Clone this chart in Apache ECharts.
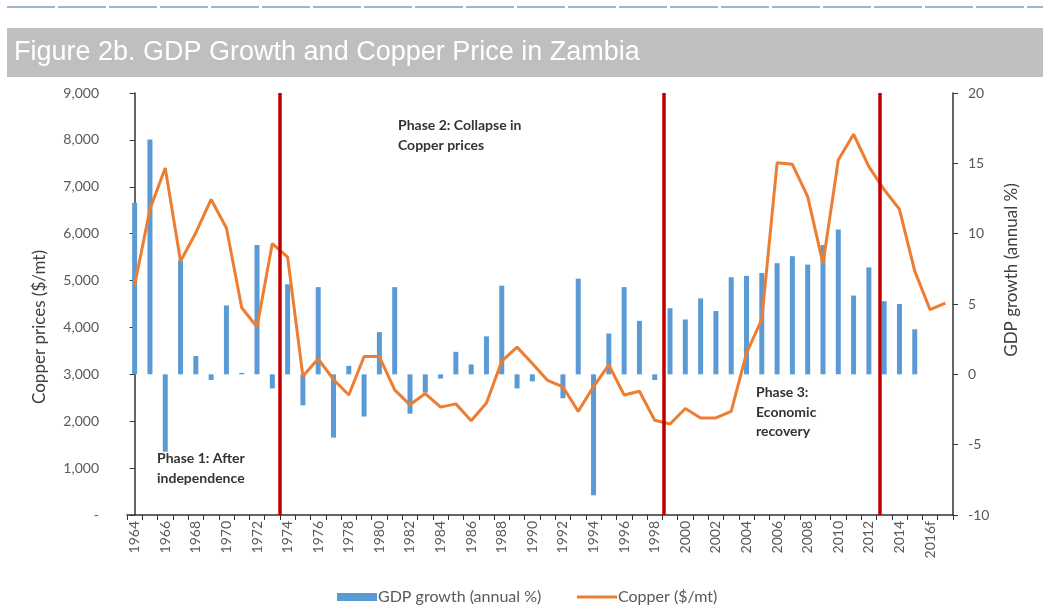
<!DOCTYPE html>
<html>
<head>
<meta charset="utf-8">
<script src="https://cdn.jsdelivr.net/npm/echarts@6/dist/echarts.min.js"></script>
<style>
  html, body { margin: 0; padding: 0; background: #fff; }
  #chart { width: 1043px; height: 605px; }
</style>
</head>
<body>
<div id="chart"></div>
<script>
'use strict';

// years 1964 - 2017, only every other one is labelled
var years = [];
for (var y = 1964; y <= 2017; y++) { years.push(String(y)); }
var yearLabels = years.map(function (v) { return v === '2016' ? '2016f' : (v === '2017' ? '2017f' : v); });

// GDP growth (annual %), no bars for the forecast years
var gdpGrowth = [
    12.2, 16.7, -5.5, 8.1, 1.3, -0.4, 4.9, 0.1, 9.2, -1.0,
    6.4, -2.2, 6.2, -4.5, 0.6, -3.0, 3.0, 6.2, -2.8, -1.3,
    -0.3, 1.6, 0.7, 2.7, 6.3, -1.0, -0.5, 0.0, -1.7, 6.8,
    -8.6, 2.9, 6.2, 3.8, -0.4, 4.7, 3.9, 5.4, 4.5, 6.9,
    7.0, 7.2, 7.9, 8.4, 7.8, 9.2, 10.3, 5.6, 7.6, 5.2,
    5.0, 3.2, null, null
];

// copper price ($/mt)
var copperPrice = [
    4900, 6520, 7400, 5410, 6020, 6730, 6120, 4420, 4010, 5790,
    5500, 2960, 3330, 2890, 2560, 3380, 3380, 2670, 2350, 2590,
    2300, 2370, 2010, 2390, 3280, 3580, 3230, 2870, 2730, 2210,
    2740, 3200, 2560, 2640, 2020, 1940, 2270, 2070, 2070, 2210,
    3450, 4170, 7510, 7480, 6790, 5360, 7570, 8120, 7430, 6940,
    6520, 5200, 4380, 4520
];

// red phase separators, in category index units
var phaseBreaks = [9.5, 34.6, 48.7];

var copperTicks = { min: 0, max: 9000, interval: 1000 };
var gdpTicks = { min: -10, max: 20, interval: 5 };

var chart = echarts.init(document.getElementById('chart'));

var axisFont = 'Lato, "Open Sans", sans-serif';
var labelColor = '#595959';

var option = {
    animation: false,
    grid: { left: 127, right: 90, top: 93, bottom: 90 },
    graphic: [
        { type: 'line', shape: { x1: 7, y1: 7, x2: 1043, y2: 7 },
          style: { stroke: '#9fb4cf', lineWidth: 2, lineDash: [48, 3] } },
        { type: 'rect', shape: { x: 7, y: 28, width: 1036, height: 49 },
          style: { fill: '#bfbfbf' } },
        { type: 'text', x: 14, y: 53,
          style: { text: 'Figure 2b. GDP Growth and Copper Price in Zambia', fill: '#ffffff',
                   font: '27px "Liberation Sans", Arial, sans-serif', verticalAlign: 'middle' } },
        { type: 'text', x: 40, y: 327, rotation: Math.PI / 2,
          style: { text: 'Copper prices ($/mt)', fill: '#404040', font: '17px ' + axisFont,
                   align: 'center', verticalAlign: 'middle' } },
        { type: 'text', x: 1012, y: 270, rotation: Math.PI / 2,
          style: { text: 'GDP growth (annual %)', fill: '#404040', font: '17px ' + axisFont,
                   align: 'center', verticalAlign: 'middle' } },
        { type: 'text', x: 157, y: 468,
          style: { text: 'Phase 1: After\nindependence', fill: '#333', font: 'bold 14px ' + axisFont,
                   lineHeight: 20, verticalAlign: 'middle' } },
        { type: 'text', x: 398, y: 135,
          style: { text: 'Phase 2: Collapse in\nCopper prices', fill: '#333', font: 'bold 14px ' + axisFont,
                   lineHeight: 20, verticalAlign: 'middle' } },
        { type: 'text', x: 756, y: 412,
          style: { text: 'Phase 3:\nEconomic\nrecovery', fill: '#333', font: 'bold 14px ' + axisFont,
                   lineHeight: 19.5, verticalAlign: 'middle' } }
    ],
    legend: [
        {
            data: ['GDP growth (annual %)'],
            left: 332, top: 584,
            icon: 'rect', itemWidth: 40, itemHeight: 8, itemGap: 0,
            textStyle: { color: labelColor, fontSize: 16, fontFamily: axisFont, padding: [0, 0, 0, -4] }
        },
        {
            data: ['Copper ($/mt)'],
            left: 572, top: 584,
            icon: 'rect', itemWidth: 40, itemHeight: 3, itemGap: 0,
            textStyle: { color: labelColor, fontSize: 16, fontFamily: axisFont, padding: [0, 0, 0, -4] }
        }
    ],
    xAxis: [
        {
            type: 'category',
            data: yearLabels,
            boundaryGap: true,
            axisLine: { lineStyle: { color: '#333', width: 1.5 } },
            axisTick: { show: true, interval: 0, length: 5, lineStyle: { color: '#333' } },
            axisLabel: { interval: 1, rotate: 90, color: labelColor, fontSize: 14, fontFamily: axisFont, margin: 6 },
            splitLine: { show: false }
        },
        {
            type: 'value', min: -0.5, max: years.length - 0.5, show: false
        }
    ],
    yAxis: [
        {
            type: 'value',
            min: copperTicks.min, max: copperTicks.max, interval: copperTicks.interval,
            axisLine: { show: true, lineStyle: { color: '#333', width: 1.5 } },
            axisTick: { show: true, length: 5, lineStyle: { color: '#333' } },
            axisLabel: {
                color: labelColor, fontSize: 14, fontFamily: axisFont, margin: 28,
                formatter: function (v) { return v === 0 ? '-' : v.toLocaleString('en-US'); }
            },
            splitLine: { show: false }
        },
        {
            type: 'value',
            min: gdpTicks.min, max: gdpTicks.max, interval: gdpTicks.interval,
            position: 'right',
            axisLine: { show: true, lineStyle: { color: '#333', width: 1.5 } },
            axisTick: { show: true, length: 5, lineStyle: { color: '#333' } },
            axisLabel: { color: labelColor, fontSize: 14, fontFamily: axisFont, margin: 15 },
            splitLine: { show: false }
        }
    ],
    series: [
        {
            name: 'GDP growth (annual %)',
            type: 'bar',
            xAxisIndex: 0,
            yAxisIndex: 1,
            data: gdpGrowth,
            barWidth: 5,
            itemStyle: { color: '#5b9bd5' }
        },
        {
            name: 'Copper ($/mt)',
            type: 'line',
            xAxisIndex: 0,
            yAxisIndex: 0,
            data: copperPrice,
            showSymbol: false,
            symbol: 'none',
            lineStyle: { color: '#ed7d31', width: 3 },
            itemStyle: { color: '#ed7d31' },
            z: 3
        },
        {
            name: 'phases',
            type: 'line',
            xAxisIndex: 1,
            yAxisIndex: 0,
            data: [],
            z: 4,
            markLine: {
                silent: true,
                symbol: 'none',
                label: { show: false },
                lineStyle: { color: '#c00000', width: 3.5, type: 'solid' },
                data: phaseBreaks.map(function (b) { return { xAxis: b }; })
            }
        }
    ]
};

chart.setOption(option);
</script>
</body>
</html>
